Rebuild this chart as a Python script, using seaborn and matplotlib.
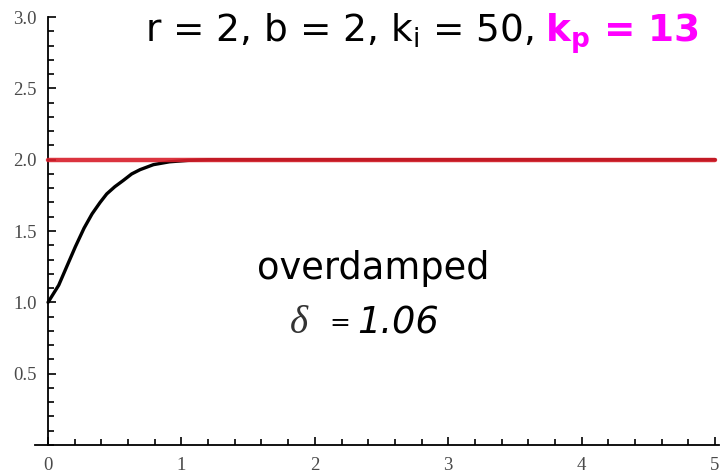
import matplotlib
matplotlib.use("Agg")
import matplotlib.pyplot as plt
import numpy as np
import pandas as pd
import seaborn as sns
from matplotlib.ticker import FixedLocator, MultipleLocator

# Step response of the closed loop (time in s, output)
t_vals = [0.0, 0.04, 0.08, 0.14, 0.205, 0.27, 0.33, 0.39, 0.44, 0.50,
          0.565, 0.627, 0.69, 0.79, 0.91, 1.05, 1.2, 1.5, 2.0, 3.0, 4.0, 5.0]
y_vals = [1.0, 1.06, 1.12, 1.25, 1.39, 1.52, 1.62, 1.70, 1.76, 1.81,
          1.855, 1.90, 1.93, 1.965, 1.985, 1.995, 2.0, 2.0, 2.0, 2.0, 2.0, 2.0]

# Reference level r
ref_t = [0.0, 5.0]
ref_y = [2.0, 2.0]

x_ticks = [0, 1, 2, 3, 4, 5]
x_tick_labels = ["0", "1", "2", "3", "4", "5"]
y_ticks = [0.5, 1.0, 1.5, 2.0, 2.5, 3.0]
y_tick_labels = ["0.5", "1.0", "1.5", "2.0", "2.5", "3.0"]

params_text = r"r = 2, b = 2, k$_\mathregular{i}$ = 50,"
gain_text = r"k$_\mathbf{p}$ = 13"
regime_text = "overdamped"
delta_symbol = "δ"
equals_sign = "="
delta_value = "1.06"

sns.set_theme(style="white")
plt.rcParams["font.family"] = ["DejaVu Sans"]

W, H = 723, 476
fig = plt.figure(figsize=(W / 100, H / 100), dpi=100, facecolor="white")
ax = fig.add_axes([34.7 / W, 1 - 445 / H, (719 - 34.7) / W, (445 - 17) / H])
ax.set_facecolor("white")


def px(x, y):
    """Pixel position (from top-left) to figure fraction."""
    return x / W, 1 - y / H


response = pd.DataFrame({"t": t_vals, "y": y_vals})
reference = pd.DataFrame({"t": ref_t, "y": ref_y})

sns.lineplot(data=response, x="t", y="y", ax=ax, color="black",
             linewidth=2.4, sort=False, estimator=None, zorder=3)
sns.lineplot(data=reference, x="t", y="y", ax=ax, color="#d81e2a",
             linewidth=3.2, alpha=0.9, sort=False, estimator=None, zorder=4)

ax.set_xlim(-0.1, 5.03)
ax.set_ylim(0, 3.0)
ax.set_xlabel("")
ax.set_ylabel("")

for side in ("top", "right"):
    ax.spines[side].set_visible(False)
ax.spines["left"].set_position(("data", 0))
for side in ("left", "bottom"):
    ax.spines[side].set_color("black")
    ax.spines[side].set_linewidth(1.3)

ax.xaxis.set_major_locator(FixedLocator(x_ticks))
ax.set_xticklabels(x_tick_labels)
ax.xaxis.set_minor_locator(MultipleLocator(0.2))
ax.yaxis.set_major_locator(FixedLocator(y_ticks))
ax.set_yticklabels(y_tick_labels)
ax.yaxis.set_minor_locator(MultipleLocator(0.1))

ax.tick_params(axis="both", which="major", direction="in", length=6,
               width=1.2, color="black", labelcolor="#4a4a4a",
               labelsize=13.5)
ax.tick_params(axis="both", which="minor", direction="in", length=4,
               width=1.2, color="black")
ax.tick_params(axis="x", which="major", pad=9)
ax.tick_params(axis="y", which="major", pad=8)
ax.tick_params(left=True, bottom=True, which="both")
for lab in ax.get_xticklabels() + ax.get_yticklabels():
    lab.set_family(["Liberation Serif"])

# Parameter line across the top
fig.text(*px(145, 42), params_text, fontsize=27, color="black",
         ha="left", va="baseline")
fig.text(*px(545, 42), gain_text, fontsize=27, color="#ff00ff",
         fontweight="bold", ha="left", va="baseline")

# Damping annotation
fig.text(*px(373, 279), regime_text, fontsize=26.5, color="black",
         ha="center", va="baseline")
fig.text(*px(290, 333), delta_symbol, fontsize=28, color="#333333",
         ha="left", va="baseline", family=["Liberation Serif"],
         style="italic")
fig.text(*px(329, 330), equals_sign, fontsize=18, color="black",
         ha="left", va="baseline")
fig.text(*px(357, 333), delta_value, fontsize=26.5, color="black",
         ha="left", va="baseline", style="italic")

fig.savefig("out.png", dpi=100, facecolor="white")
